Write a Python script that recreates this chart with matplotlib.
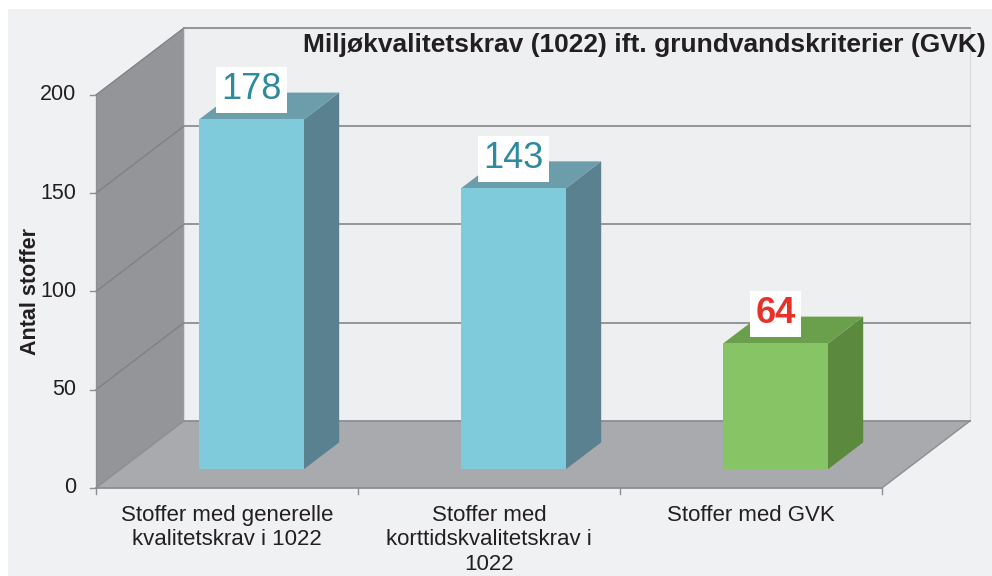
import matplotlib.pyplot as plt
from matplotlib.patches import Polygon, Rectangle

plt.rcParams['font.family'] = ['Liberation Sans', 'DejaVu Sans']

categories = ["Stoffer med generelle\nkvalitetskrav i 1022",
              "Stoffer med\nkorttidskvalitetskrav i\n1022",
              "Stoffer med GVK"]
values = [178, 143, 64]
yticks = [0, 50, 100, 150, 200]
title = "Miljøkvalitetskrav (1022) ift. grundvandskriterier (GVK)"
ylabel = "Antal stoffer"

# colours: (front, side, top), label colour, bold
bar_styles = [
    (("#7fcbdb", "#5a818f", "#6b9dab"), "#2e8a9e", False),
    (("#7fcbdb", "#5a818f", "#6b9dab"), "#2e8a9e", False),
    (("#86c465", "#5b8a3e", "#6aa04c"), "#e8312a", True),
]

# oblique projection of the depth axis (category units, value units)
DX, DY = 0.336, 34.1
YMAX = 200
bar_w = 0.40
d0, d1 = 0.28, 0.68


def proj(x, y, d):
    return (x + d * DX, y + d * DY)


fig = plt.figure(figsize=(9.92, 5.76), dpi=100)
ax = fig.add_axes([0, 0, 1, 1])
ax.set_xlim(-0.366, 3.42)
ax.set_ylim(-44.8, 248.3)
ax.axis('off')

n = len(categories)

# outer panel
ax.add_patch(Rectangle((-0.336, -45), 3.8, 288.7, facecolor="#f0f1f3",
                       edgecolor="none", zorder=0))

# back wall
ax.add_patch(Polygon([proj(0, 0, 1), proj(n, 0, 1), proj(n, YMAX, 1), proj(0, YMAX, 1)],
                     facecolor="#eeeff1", edgecolor="#d8d9db", lw=0.8, zorder=1))
# left wall
ax.add_patch(Polygon([proj(0, 0, 0), proj(0, 0, 1), proj(0, YMAX, 1), proj(0, YMAX, 0)],
                     facecolor="#939598", edgecolor="none", zorder=1))
# floor
ax.add_patch(Polygon([proj(0, 0, 0), proj(n, 0, 0), proj(n, 0, 1), proj(0, 0, 1)],
                     facecolor="#a8aaad", edgecolor="none", zorder=1))

# grid lines on back and left wall
for v in yticks[1:]:
    xa, ya = proj(0, v, 0)
    xb, yb = proj(0, v, 1)
    xc, yc = proj(n, v, 1)
    ax.plot([xa, xb], [ya, yb], color="#7d7f82", lw=0.9, zorder=2)
    ax.plot([xb, xc], [yb, yc], color="#8c8e91", lw=1.3, zorder=2)
xa, ya = proj(0, 0, 0)
xb, yb = proj(0, 0, 1)
xc, yc = proj(n, 0, 1)
ax.plot([xa, xb], [ya, yb], color="#8a8c8f", lw=0.9, zorder=2)
ax.plot([xb, xc], [yb, yc], color="#8c8e91", lw=1.3, zorder=2)

# front axis lines and ticks
ax.plot([0, n], [0, 0], color="#8c8e91", lw=1.3, zorder=2)
ax.plot([0, 0], [0, YMAX], color="#8c8e91", lw=0.8, zorder=2)
xe, ye = proj(n, 0, 0)
xf, yf = proj(n, 0, 1)
ax.plot([xe, xf], [ye, yf], color="#8c8e91", lw=1.0, zorder=2)
for i in range(n + 1):
    ax.plot([i, i], [0, -3], color="#8c8e91", lw=1.0, zorder=2)
for v in yticks:
    ax.plot([-0.022, 0], [v, v], color="#8c8e91", lw=1.0, zorder=2)
    ax.text(-0.075, v, str(v), ha="right", va="center", fontsize=15.5,
            color="#231f20", zorder=5)

# bars
for i, (v, (cols, lcol, bold)) in enumerate(zip(values, bar_styles)):
    xl = i + 0.5 - bar_w / 2
    xr = i + 0.5 + bar_w / 2
    front = [proj(xl, 0, d0), proj(xr, 0, d0), proj(xr, v, d0), proj(xl, v, d0)]
    side = [proj(xr, 0, d0), proj(xr, 0, d1), proj(xr, v, d1), proj(xr, v, d0)]
    top = [proj(xl, v, d0), proj(xr, v, d0), proj(xr, v, d1), proj(xl, v, d1)]
    ax.add_patch(Polygon(side, facecolor=cols[1], edgecolor="none", zorder=3))
    ax.add_patch(Polygon(top, facecolor=cols[2], edgecolor="none", zorder=3))
    ax.add_patch(Polygon(front, facecolor=cols[0], edgecolor="none", zorder=3))
    lx, ly = proj(i + 0.5, v + 15.0, d0)
    ax.text(lx, ly, str(v), ha="center", va="center", fontsize=26,
            color=lcol, fontweight="bold" if bold else "normal", zorder=6,
            bbox=dict(boxstyle="square,pad=0.15", facecolor="white", edgecolor="none"))

# category labels
for i, c in enumerate(categories):
    ax.text(i + 0.5, -8.5, c, ha="center", va="top", fontsize=16,
            color="#231f20", linespacing=1.22, zorder=5)

ax.text(3.397, 225.5, title, ha="right", va="center", fontsize=19,
        fontweight="bold", color="#231f20", zorder=6)
ax.text(-0.25, 100, ylabel, ha="center", va="center", rotation=90,
        fontsize=15.5, fontweight="bold", color="#231f20", zorder=5)

fig.savefig("out.png", dpi=100, facecolor="white")
